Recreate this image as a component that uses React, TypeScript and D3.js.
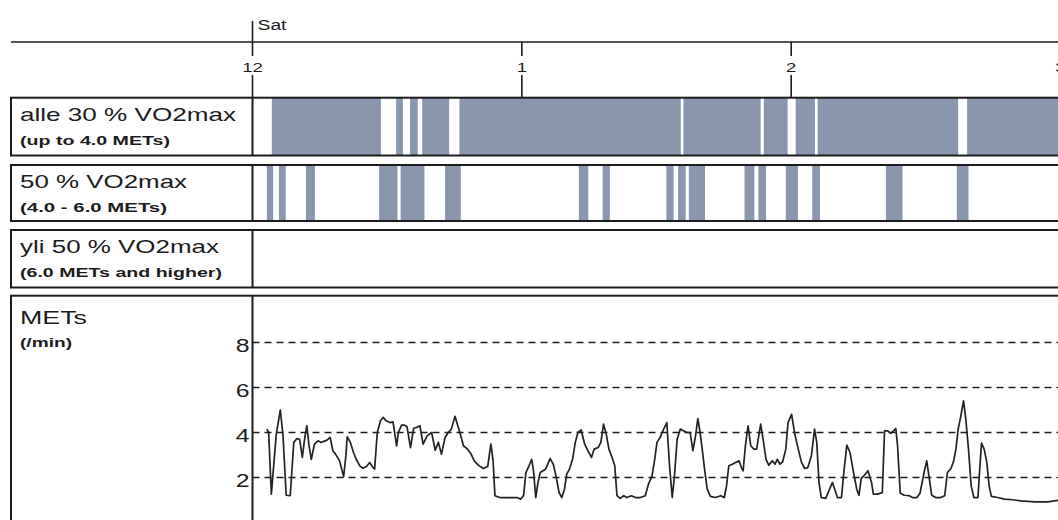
import React from 'react'
import * as d3 from 'd3'

// minutes after midnight, Sat
const lightBands: [number, number][] = [
  [4.3, 28.6], [32.0, 33.5], [35.1, 36.8], [37.8, 43.8], [46.1, 95.4],
  [96.0, 113.2], [113.9, 119.2], [121.0, 125.3], [125.9, 157.2], [159.2, 181]
]
const moderateBands: [number, number][] = [
  [3.2, 4.6], [5.9, 7.4], [11.9, 13.9], [28.2, 32.3], [33.0, 38.3], [42.9, 46.4],
  [72.7, 74.8], [78.0, 79.6], [92.2, 93.8], [94.8, 96.5], [97.2, 100.8],
  [109.6, 111.8], [112.7, 114.4], [118.8, 121.5], [124.7, 126.4],
  [141.1, 144.8], [156.9, 159.5]
]
const vigorousBands: [number, number][] = []

const metsSeries: [number, number][] = [
  [3.2, 4.15], [3.6, 4.0], [4.2, 1.26], [5.3, 3.93], [6.2, 5.0], [6.8, 3.85], [7.5, 1.21], [8.4, 1.19],
  [9.2, 3.56], [9.9, 3.73], [10.5, 3.7], [11.1, 2.89], [11.6, 3.7], [12.1, 4.3], [12.6, 3.41], [13.1, 2.81],
  [13.8, 3.48], [14.6, 3.63], [15.3, 3.56], [16.6, 3.66], [17.3, 3.78], [17.9, 3.19], [18.5, 3.04], [19.4, 2.74],
  [20.3, 2.04], [20.8, 2.96], [21.1, 3.81], [21.8, 3.56], [22.5, 3.11], [23.1, 2.81], [23.9, 2.52], [24.6, 2.41],
  [25.4, 2.49], [26.1, 2.67], [26.7, 2.49], [27.2, 2.37], [27.8, 4.0], [28.5, 4.52], [29.1, 4.67], [29.8, 4.52],
  [30.6, 4.44], [31.3, 4.47], [32.1, 3.41], [32.5, 4.0], [33.2, 4.33], [33.8, 4.33], [34.4, 4.27], [35.2, 3.33],
  [35.9, 4.19], [36.5, 4.22], [37.3, 4.3], [38.0, 3.48], [38.9, 3.85], [39.9, 4.0], [40.7, 3.21], [41.4, 3.56],
  [42.1, 3.04], [42.9, 3.78], [43.6, 4.0], [44.3, 4.15], [45.1, 4.72], [46.2, 4.0], [47.0, 3.41], [47.9, 3.26],
  [48.7, 3.04], [49.4, 2.74], [50.3, 2.55], [51.4, 2.4], [52.4, 2.49], [53.1, 3.48], [53.6, 2.74], [54.0, 1.19],
  [55.1, 1.11], [57.0, 1.11], [58.9, 1.11], [59.8, 1.04], [60.4, 1.21], [60.9, 2.22], [61.6, 2.52], [62.2, 2.81],
  [62.6, 2.3], [63.1, 1.11], [63.6, 1.78], [64.1, 2.22], [64.7, 2.3], [65.3, 2.37], [66.3, 2.84], [67.0, 2.59],
  [67.6, 2.07], [68.3, 1.33], [68.9, 1.11], [69.5, 1.48], [70.0, 2.15], [70.6, 2.37], [71.3, 2.81], [71.9, 3.56],
  [72.5, 4.0], [73.2, 4.12], [74.0, 3.48], [74.7, 3.19], [75.5, 2.89], [76.1, 3.26], [77.0, 3.33], [77.6, 3.56],
  [78.2, 4.37], [78.8, 3.93], [79.4, 3.26], [80.1, 2.89], [80.7, 2.52], [81.2, 1.19], [81.9, 1.07], [82.7, 1.19],
  [83.4, 1.11], [84.4, 1.19], [85.3, 1.11], [86.4, 1.11], [87.5, 1.19], [88.2, 1.7], [89.0, 2.07], [89.6, 2.81],
  [90.1, 3.56], [90.8, 3.78], [91.6, 4.15], [92.3, 4.44], [92.9, 2.52], [93.5, 1.11], [94.0, 2.07], [94.6, 3.7],
  [95.3, 4.15], [96.1, 4.07], [96.8, 4.0], [97.5, 4.0], [98.1, 3.19], [98.7, 3.85], [99.2, 4.62], [99.6, 4.15],
  [100.1, 3.41], [100.7, 2.37], [101.3, 1.48], [102.0, 1.16], [103.1, 1.11], [104.3, 1.19], [105.1, 1.11], [105.6, 1.63],
  [106.1, 2.52], [106.9, 2.59], [107.6, 2.67], [108.4, 2.74], [108.9, 2.44], [109.3, 2.3], [109.8, 3.41], [110.4, 4.3],
  [111.0, 3.41], [111.7, 3.26], [112.3, 3.26], [113.2, 4.37], [113.8, 3.63], [114.4, 2.81], [115.0, 2.55], [115.8, 2.74],
  [116.4, 2.59], [116.9, 2.81], [117.5, 2.59], [118.1, 2.7], [118.8, 3.26], [119.3, 4.44], [120.1, 4.81], [120.8, 3.93],
  [121.5, 3.33], [122.3, 2.67], [123.0, 2.4], [123.7, 2.44], [124.5, 2.96], [125.2, 4.15], [125.7, 3.56], [126.2, 1.78],
  [126.7, 1.11], [127.7, 1.07], [128.4, 1.41], [129.2, 1.78], [129.7, 1.48], [130.3, 1.11], [131.2, 1.11], [131.8, 2.37],
  [132.4, 3.44], [133.1, 3.11], [133.9, 2.22], [134.6, 1.48], [135.1, 1.21], [135.6, 1.95], [136.3, 2.1], [137.1, 2.3],
  [137.9, 1.78], [138.3, 1.26], [139.2, 1.26], [140.3, 1.33], [140.8, 4.07], [141.5, 4.07], [142.2, 3.96], [142.8, 4.07],
  [143.3, 4.18], [143.7, 3.41], [144.3, 1.3], [145.2, 1.21], [146.3, 1.19], [147.0, 1.11], [148.0, 1.11], [148.7, 1.3],
  [149.6, 2.22], [150.2, 2.74], [150.7, 2.04], [151.3, 1.21], [152.2, 1.11], [153.3, 1.11], [154.2, 1.19], [154.8, 2.22],
  [155.6, 2.4], [156.2, 2.74], [156.7, 3.26], [157.2, 4.15], [157.8, 4.74], [158.4, 5.41], [158.9, 4.59], [159.5, 3.26],
  [160.1, 1.63], [160.7, 1.11], [161.6, 1.11], [162.0, 2.37], [162.4, 3.53], [163.0, 3.26], [163.6, 2.64], [164.1, 1.63],
  [164.6, 1.16], [166.0, 1.11], [167.5, 1.04], [169.3, 1.01], [171.2, 0.96], [174.2, 0.92], [177.2, 0.92], [179.8, 0.99]
]

const hourLabels = ['12', '1', '2', '3']
const yTicks = [2, 4, 6, 8]
const dayLabel = 'Sat'

const panelLabels = [
  { main: 'alle 30 % VO2max', sub: '(up to 4.0 METs)', mainW: 216, subW: 150 },
  { main: '50 % VO2max', sub: '(4.0 - 6.0 METs)', mainW: 167, subW: 147 },
  { main: 'yli 50 % VO2max', sub: '(6.0 METs and higher)', mainW: 199, subW: 202 },
  { main: 'METs', sub: '(/min)', mainW: 67, subW: 52 }
]

const W = 1058
const H = 520
const LEFT = 11
const AXIS_X = 252.5
const SX = 1.38
const FONT = 'Liberation Sans, Arial, sans-serif'
const BAND = '#8996ae'
const INK = '#1c1c1c'

const t0 = new Date(2000, 0, 1, 0, 0) // a Saturday
const at = (m: number) => new Date(t0.getTime() + m * 60000)

const panels = [
  { top: 97.7, bottom: 155.5 },
  { top: 165, bottom: 221 },
  { top: 230, bottom: 287.5 },
  { top: 295.7, bottom: 560 }
]

const SText = ({ x, y, size, anchor = 'start', children }: any) => (
  <text transform={`translate(${x},${y}) scale(${SX},1)`} fontSize={size}
    textAnchor={anchor} fontFamily={FONT} fill={INK}>{children}</text>
)

const App = () => {
  const x = d3.scaleTime().domain([t0, at(180)]).range([AXIS_X, AXIS_X + 180 * 4.489])
  const y = d3.scaleLinear().domain([0, 8]).range([522.5, 342.5])
  const hours = x.ticks(d3.timeHour.every(1))

  const line = d3.line<[number, number]>()
    .x(d => x(at(d[0])))
    .y(d => y(d[1]))

  const bandSets = [lightBands, moderateBands, vigorousBands]

  return (
    <svg width={W} height={H} style={{ position: 'fixed', left: 0, top: 0, background: '#fff' }}>
      <defs>
        <clipPath id='plot'>
          <rect x={AXIS_X} y={0} width={W - AXIS_X} height={H} />
        </clipPath>
      </defs>
      <rect width={W} height={H} fill='#fff' />

      {/* time axis */}
      <line x1={LEFT} x2={W + 5} y1={42} y2={42} stroke={INK} strokeWidth={1.6} />
      <line x1={AXIS_X} x2={AXIS_X} y1={21} y2={42} stroke={INK} strokeWidth={1.6} />
      <SText x={AXIS_X + 5} y={29.5} size={14}>{dayLabel}</SText>
      {hours.map((h, i) => (
        <g key={i}>
          <line x1={x(h)} x2={x(h)} y1={42} y2={56} stroke={INK} strokeWidth={1.6} />
          <line x1={x(h)} x2={x(h)} y1={75} y2={panels[0].top} stroke={INK} strokeWidth={1.6} />
          <SText x={x(h)} y={71.5} size={13.5} anchor='middle'>{hourLabels[i]}</SText>
        </g>
      ))}

      {/* activity bands */}
      <g clipPath='url(#plot)'>
        {bandSets.map((set, pi) => set.map((b, i) => (
          <rect key={`${pi}-${i}`} x={x(at(b[0]))} width={x(at(b[1])) - x(at(b[0]))}
            y={panels[pi].top} height={panels[pi].bottom - panels[pi].top} fill={BAND} />
        )))}
      </g>

      {/* METs grid + line */}
      {yTicks.map(v => (
        <g key={v}>
          <line x1={AXIS_X} x2={W} y1={y(v)} y2={y(v)} stroke={INK} strokeWidth={1.6}
            strokeDasharray='7,5' />
          <SText x={249.5} y={y(v) + 9} size={18} anchor='end'>{v}</SText>
        </g>
      ))}
      <g clipPath='url(#plot)'>
        <path d={line(metsSeries) || ''} fill='none' stroke='#222' strokeWidth={1.7}
          strokeLinejoin='round' />
      </g>

      {/* panel frames */}
      {panels.map((p, i) => (
        <g key={i}>
          <rect x={LEFT} y={p.top} width={W + 20 - LEFT} height={p.bottom - p.top}
            fill='none' stroke={INK} strokeWidth={2} />
          <line x1={AXIS_X} x2={AXIS_X} y1={p.top} y2={p.bottom} stroke={INK} strokeWidth={2} />
          <text x={20} y={p.top + (i === 3 ? 28.5 : 23)} fontSize={19} fontFamily={FONT} fill={INK}
            textLength={panelLabels[i].mainW} lengthAdjust='spacingAndGlyphs'>{panelLabels[i].main}</text>
          <text x={20} y={p.top + (i === 3 ? 51 : 47)} fontSize={13.5} fontWeight='bold' fontFamily={FONT}
            fill={INK} textLength={panelLabels[i].subW} lengthAdjust='spacingAndGlyphs'>{panelLabels[i].sub}</text>
        </g>
      ))}
    </svg>
  )
}

export default App
